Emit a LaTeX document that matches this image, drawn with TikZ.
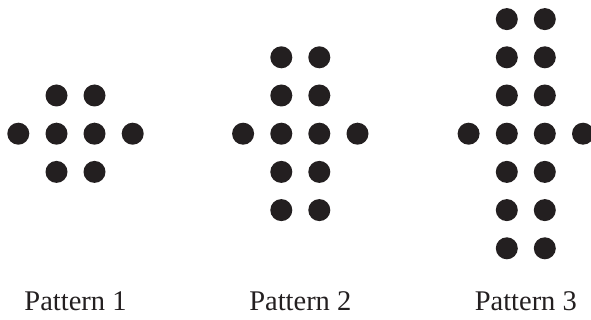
\documentclass[tikz,border=0pt]{standalone}
\usepackage{fontspec}
\setmainfont{Liberation Serif}
\usetikzlibrary{positioning}
\definecolor{inkdark}{RGB}{35,31,32}
\tikzset{
  caption/.style={font=\fontsize{28.5}{32}\selectfont, text=inkdark, anchor=base, inner sep=0pt},
}
\newcommand{\bead}[1]{%
  \fill[inkdark] #1 circle (11pt);
}

\begin{document}
\begin{tikzpicture}[x=1pt,y=-1pt]
  \useasboundingbox (0,0) rectangle (591,320);
  % three patterns: 2 columns of 2n+1 dots, one extra dot each side of the middle row
  \foreach \n/\cx in {1/75.5,2/300.3,3/525.8}{
    \foreach \r in {-\n,...,\n}{
      \bead{(\cx-19,133.7+38.2*\r)}
      \bead{(\cx+19,133.7+38.2*\r)}
    }
    \bead{(\cx-57.2,133.7)} \bead{(\cx+57.2,133.7)}
    % label under the pattern
    \node[caption] (label\n) at (\cx,310) {Pattern \n};
  }
\end{tikzpicture}
\end{document}
